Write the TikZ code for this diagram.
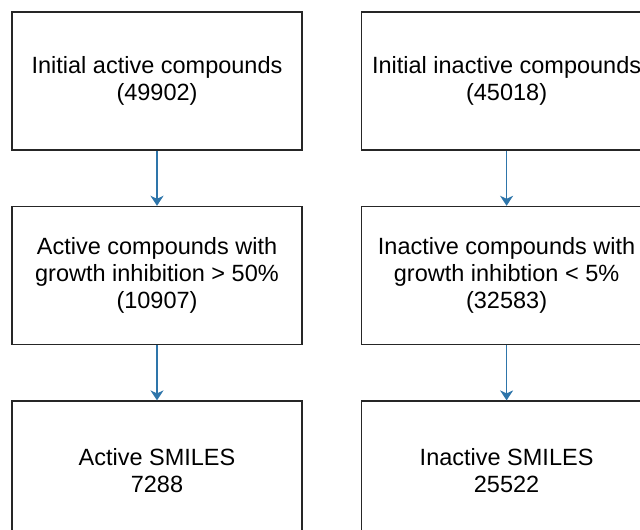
\documentclass[tikz,border=0pt]{standalone}
\usepackage{fontspec}
\setmainfont{Liberation Sans}
\usetikzlibrary{positioning,arrows.meta}
\definecolor{flowblue}{RGB}{46,117,170}

\begin{document}
\begin{tikzpicture}[x=1pt,y=1pt,
  box/.style={draw=black!85, line width=1.6pt, minimum width=290pt, minimum height=138pt,
    align=center, inner sep=0pt, font=\fontsize{23.5}{27}\selectfont},
  flow/.style={-{Stealth[length=10pt,width=13pt,inset=3pt]}, flowblue, line width=1.5pt}]
\useasboundingbox (0,0) rectangle (640,530);

% Active column
\node[box] (act1) at (157,449) {Initial active compounds\\(49902)};
\node[box, below=55pt of act1] (act2) {Active compounds with\\growth inhibition > 50\%\\(10907)};
\node[box, below=55pt of act2] (act3) {Active SMILES\\7288};

% Inactive column
\node[box, right=58pt of act1] (inact1) {Initial inactive compounds\\(45018)};
\node[box, below=55pt of inact1] (inact2) {Inactive compounds with\\growth inhibtion < 5\%\\(32583)};
\node[box, below=55pt of inact2] (inact3) {Inactive SMILES\\25522};

% Arrows
\draw[flow] (act1) -- (act2);
\draw[flow] (act2) -- (act3);
\draw[flow] (inact1) -- (inact2);
\draw[flow] (inact2) -- (inact3);

\end{tikzpicture}
\end{document}
